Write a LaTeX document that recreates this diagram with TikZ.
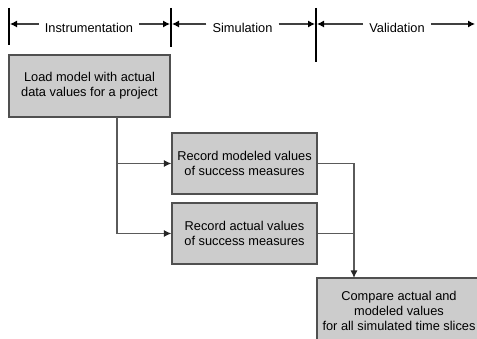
\documentclass[tikz,border=0pt]{standalone}
\usepackage{fontspec}
\setmainfont{Liberation Sans}
\usetikzlibrary{arrows.meta,calc}
\definecolor{boxfill}{HTML}{CCCCCC}
\definecolor{boxline}{HTML}{505050}
\definecolor{conn}{HTML}{5A5A5A}
\begin{document}
\begin{tikzpicture}[x=1pt,y=-1pt,
  box/.style={draw=boxline,line width=1.2pt,fill=boxfill,align=center,inner sep=0pt,
    font=\fontsize{12.8}{15}\selectfont},
  lbl/.style={inner xsep=6pt,inner ysep=0pt,font=\fontsize{12.8}{15}\selectfont},
  bar/.style={line width=1.8pt,black},
  tl/.style={line width=1.1pt,draw=black!75,-{Latex[length=7pt,width=7pt,color=black]}},
  arr/.style={line width=1.2pt,draw=conn,-{Latex[length=7.5pt,width=7pt,color=black!85]}},
  ln/.style={line width=1.2pt,draw=conn}]
\useasboundingbox (0,0) rectangle (477,339);
% timeline bars
\coordinate (b1t) at (9,8);   \coordinate (b1b) at (9,45);
\coordinate (b2t) at (171,8); \coordinate (b2b) at (171,47);
\coordinate (b3t) at (316,8); \coordinate (b3b) at (316,62);
\draw[bar] (b1t) -- (b1b);
\draw[bar] (b2t) -- (b2b);
\draw[bar] (b3t) -- (b3b);
\coordinate (m1) at (9,24);
\coordinate (m2) at (171,24);
\coordinate (m3) at (316,24);
\coordinate (mend) at (475,24);
\node[lbl] (l1) at (89,28) {Instrumentation};
\node[lbl] (l2) at (242.5,28) {Simulation};
\node[lbl] (l3) at (397,28) {Validation};
\draw[tl] (l1.west |- m1) -- ([xshift=1pt]m1);
\draw[tl] (l1.east |- m1) -- ([xshift=-1pt]m2);
\draw[tl] (l2.west |- m2) -- ([xshift=1pt]m2);
\draw[tl] (l2.east |- m2) -- ([xshift=-1pt]m3);
\draw[tl] (l3.west |- m3) -- ([xshift=1pt]m3);
\draw[tl] (l3.east |- m3) -- (mend);
% boxes
\node[box,minimum width=161pt,minimum height=62pt] (box1) at (89.5,86)
  {Load model with actual\\data values for a project};
\node[box,minimum width=145pt,minimum height=61pt] (box2) at (244.5,163.5)
  {Record modeled values\\of success measures};
\node[box,minimum width=145pt,minimum height=61pt] (box3) at (244.5,233.5)
  {Record actual values\\of success measures};
\node[box,minimum width=164pt,minimum height=66pt] (box4) at (399,311)
  {Compare actual and\\modeled values\\for all simulated time slices};
% connectors
\coordinate (s1) at (117,117);
\coordinate (j1) at (117,163.5);
\coordinate (r1) at (354,163.5);
\coordinate (r2) at (354,233.5);
\coordinate (t4) at (354,278);
\draw[arr] (s1) |- (box3.west);
\draw[arr] (j1) -- (box2.west);
\draw[ln] (box2.east) -- (r1);
\draw[ln] (box3.east) -- (r2);
\draw[arr] (r1) -- (t4);
\end{tikzpicture}
\end{document}
